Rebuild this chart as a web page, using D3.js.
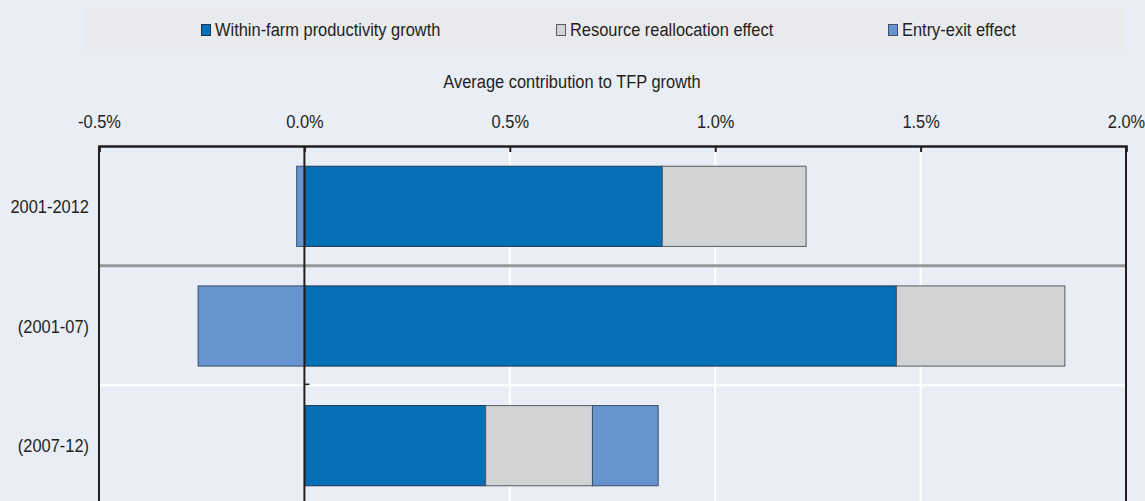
<!DOCTYPE html>
<html>
<head>
<meta charset="utf-8">
<script src="https://cdn.jsdelivr.net/npm/d3@7"></script>
<style>
  html, body { margin: 0; padding: 0; background: #E9EDF6; }
  svg { display: block; }
  text { font-family: "Liberation Sans", Arial, sans-serif; fill: #231F20; }
</style>
</head>
<body>
<svg id="chart" width="1145" height="501"></svg>
<script>
const categories = ["2001-2012", "(2001-07)", "(2007-12)"];
const seriesNames = ["Within-farm productivity growth", "Resource reallocation effect", "Entry-exit effect"];
const withinFarm = [0.87, 1.44, 0.44];
const reallocation = [0.35, 0.41, 0.26];
const entryExit = [-0.02, -0.26, 0.16];
const xTicks = [-0.5, 0.0, 0.5, 1.0, 1.5, 2.0];
const axisTitle = "Average contribution to TFP growth";

const colors = ["#0370B7", "#D2D3D5", "#6794CF"];
const strokes = ["#1F3550", "#5A5B5E", "#3E4F66"];
const FS = 19, SX = 0.865;

const W = 1145, H = 501;
const svg = d3.select("#chart");
svg.append("rect").attr("width", W).attr("height", H).attr("fill", "#E9EDF6");

function narrowText(parent, tx, ty, str, anchor) {
  return parent.append("text")
    .attr("transform", `translate(${tx},${ty}) scale(${SX},1)`)
    .attr("text-anchor", anchor || "start")
    .attr("font-size", FS).text(str);
}

const plotL = 99, plotR = 1126, plotT = 146, plotB = 505;
const x = d3.scaleLinear().domain([-0.5, 2.0]).range([plotL, plotR]);
const y = d3.scaleBand().domain(categories).range([plotT, plotB]).paddingInner(0.33).paddingOuter(0.165);

// legend
svg.append("rect").attr("x", 84).attr("y", 8).attr("width", 1041).attr("height", 41).attr("fill", "#E9EAEE");
const legendX = [201, 556, 888];
const lg = svg.append("g");
seriesNames.forEach((n, i) => {
  lg.append("rect").attr("x", legendX[i] + 0.5).attr("y", 24.5).attr("width", 9).attr("height", 11)
    .attr("fill", colors[i]).attr("stroke", strokes[i]).attr("stroke-width", 1);
  narrowText(lg, legendX[i] + 14, 36, n);
});

// axis title
narrowText(svg, 572, 88, axisTitle, "middle");

// vertical white gridlines
svg.append("g").selectAll("line").data(xTicks.filter(t => t > 0 && t < 2)).join("line")
  .attr("x1", d => x(d)).attr("x2", d => x(d)).attr("y1", plotT).attr("y2", H)
  .attr("stroke", "#FFFFFF").attr("stroke-width", 2);

// band boundaries
const bounds = [y(categories[1]) - y.step() * y.paddingInner() / 2, y(categories[2]) - y.step() * y.paddingInner() / 2];
svg.append("line").attr("x1", plotL).attr("x2", plotR).attr("y1", bounds[1]).attr("y2", bounds[1])
  .attr("stroke", "#FFFFFF").attr("stroke-width", 2);

// stacked bars
const rows = categories.map((c, i) => ({ cat: c, a: withinFarm[i], b: reallocation[i], c: entryExit[i] }));
const stack = d3.stack().keys(["a", "b", "c"]).offset(d3.stackOffsetDiverging);
const layers = stack(rows);
layers.forEach((layer, li) => {
  svg.append("g").selectAll("rect").data(layer).join("rect")
    .attr("x", d => x(Math.min(d[0], d[1])) + 0.5)
    .attr("y", d => y(d.data.cat) + 0.5)
    .attr("width", d => Math.abs(x(d[1]) - x(d[0])))
    .attr("height", y.bandwidth())
    .attr("fill", colors[li]).attr("stroke", strokes[li]).attr("stroke-width", 1);
});

// grey separator between summary and sub-periods
svg.append("line").attr("x1", plotL).attr("x2", plotR - 1).attr("y1", bounds[0]).attr("y2", bounds[0])
  .attr("stroke", "#98989A").attr("stroke-width", 3);

// zero line with tick at band boundary
svg.append("line").attr("x1", x(0)).attr("x2", x(0)).attr("y1", plotT).attr("y2", H)
  .attr("stroke", "#231F20").attr("stroke-width", 2);
svg.append("line").attr("x1", x(0)).attr("x2", x(0) + 5).attr("y1", bounds[1] - 1).attr("y2", bounds[1] - 1)
  .attr("stroke", "#231F20").attr("stroke-width", 1.5);

// frame
svg.append("line").attr("x1", plotL).attr("x2", plotL).attr("y1", plotT).attr("y2", H).attr("stroke", "#231F20").attr("stroke-width", 2);
svg.append("line").attr("x1", plotR).attr("x2", plotR).attr("y1", plotT).attr("y2", H).attr("stroke", "#231F20").attr("stroke-width", 2);

// top axis
const xAxis = d3.axisTop(x).tickValues(xTicks).tickSize(-6).tickPadding(18)
  .tickFormat(d => d3.format(".1f")(d).replace("\u2212", "-") + "%");
const ax = svg.append("g").attr("transform", `translate(0,${plotT})`).call(xAxis);
ax.select(".domain").attr("stroke", "#231F20").attr("stroke-width", 2.5);
ax.selectAll(".tick line").attr("stroke", "#231F20").attr("stroke-width", 2);
ax.selectAll(".tick text").attr("font-size", FS).attr("fill", "#231F20")
  .attr("font-family", "'Liberation Sans', Arial, sans-serif")
  .attr("transform", `scale(${SX},1)`);

// category labels
const cl = svg.append("g");
categories.forEach(c => narrowText(cl, 89, y(c) + y.bandwidth() / 2 + 7, c, "end"));
</script>
</body>
</html>
